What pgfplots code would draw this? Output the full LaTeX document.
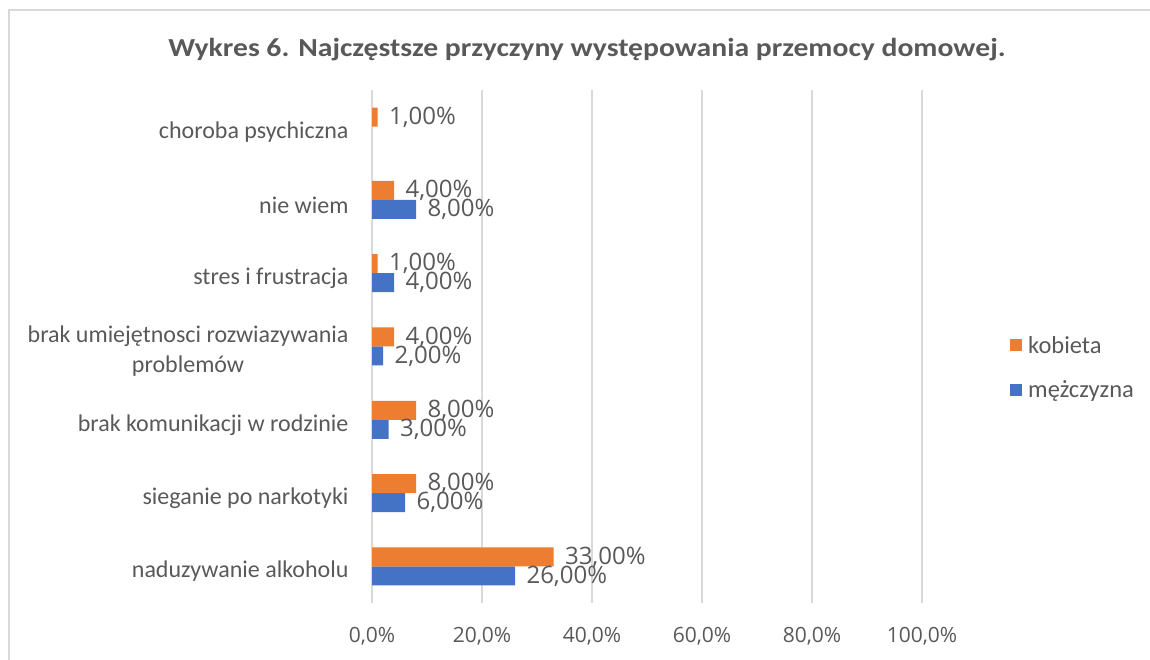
\documentclass[border=0pt]{standalone}
\usepackage{pgfplots}
\pgfplotsset{compat=1.18}
\usepackage{fontspec}
\setmainfont{Carlito}
\newfontfamily\datafont{Open Sans}
\definecolor{orng}{HTML}{ED7D31}
\definecolor{blu}{HTML}{4472C4}
\definecolor{txt}{HTML}{595959}
\definecolor{grd}{HTML}{D9D9D9}
\begin{document}
\begin{tikzpicture}
\path[use as bounding box] (0pt,0pt) rectangle (1150pt,660pt);
\draw[grd, line width=2.5pt] (9pt,0pt) -- (9pt,650pt) -- (1150pt,650pt);
\node[font=\fontsize{26pt}{30pt}\selectfont\bfseries, text=txt] at (587pt,610pt) {\scalebox{1.14}[1]{Wykres 6. Najczęstsze przyczyny występowania przemocy domowej.}};
\begin{axis}[
  at={(372pt,57pt)}, anchor=south west,
  scale only axis, width=550pt, height=513pt,
  xbar, bar width=19pt,
  xmin=0, xmax=100, ymin=-0.5, ymax=6.5,
  xtick={0,20,40,60,80,100},
  ytick={0,1,2,3,4,5,6},
  yticklabels={naduzywanie alkoholu, sieganie po narkotyki, brak komunikacji w rodzinie, {brak umiejętnosci rozwiazywania\\problemów}, stres i frustracja, nie wiem, choroba psychiczna},
  xticklabel={\pgfmathprintnumber[fixed,fixed zerofill,precision=1,use comma]{\tick}\%},
  /pgf/number format/assume math mode=true,
  axis line style={draw=none},
  major tick length=0pt,
  xmajorgrids, major grid style={grd, line width=2pt},
  xticklabel style={font=\datafont\fontsize{21pt}{24pt}\selectfont, text=txt, yshift=-21pt},
  yticklabel style={font=\fontsize{24pt}{30pt}\selectfont, text=txt, align=center, xshift=-20pt, yshift=-5pt},
  nodes near coords={\pgfmathprintnumber[fixed,fixed zerofill,precision=2,use comma]{\pgfplotspointmeta}\%},
  nodes near coords style={font=\datafont\fontsize{24pt}{26pt}\selectfont, text=txt, anchor=west, xshift=8pt},
  point meta=explicit,
  legend style={at={(1.16,0.459)}, anchor=west, draw=none, fill=none, font=\fontsize{24.5pt}{26pt}\selectfont, text=txt, row sep=22pt, inner sep=0pt, nodes={inner xsep=6pt}},
  legend cell align=left,
  reverse legend,
  legend image code/.code={\fill[#1] (0pt,-6pt) rectangle (12pt,6pt);},
]
\addplot[fill=blu, draw=none, bar shift=-9.5pt] coordinates {
  (26,0) [26] (6,1) [6] (3,2) [3] (2,3) [2] (4,4) [4] (8,5) [8]
};
\addplot[fill=orng, draw=none, bar shift=9.5pt] coordinates {
  (33,0) [33] (8,1) [8] (8,2) [8] (4,3) [4] (1,4) [1] (4,5) [4] (1,6) [1]
};
\legend{mężczyzna, kobieta}
\end{axis}
\end{tikzpicture}
\end{document}
